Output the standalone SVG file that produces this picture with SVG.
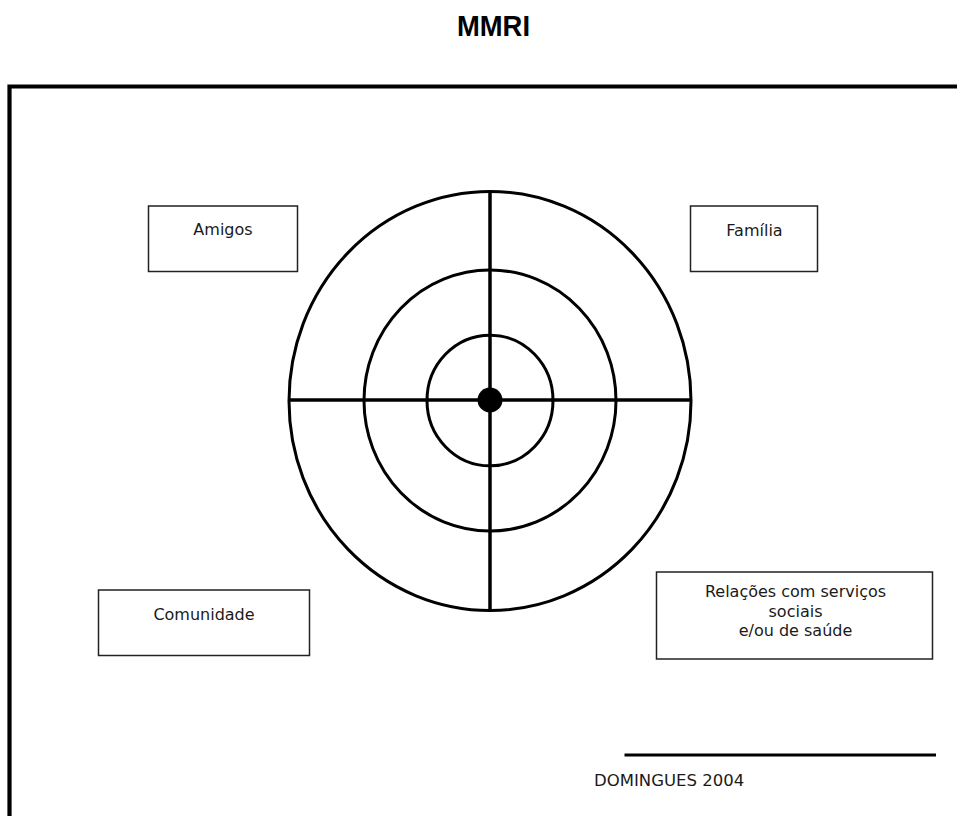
<svg xmlns="http://www.w3.org/2000/svg" width="957" height="816" viewBox="0 0 957 816">
<style>
.box{fill:#fff;stroke:#222;stroke-width:1.5}
.lbl{font-family:"DejaVu Sans",Verdana,sans-serif;font-size:16px;fill:#1a1a1a;text-anchor:middle}
.ring{fill:none;stroke:#000;stroke-width:3}
.axis{stroke:#000;stroke-width:3.5}
</style>
<rect width="957" height="816" fill="#fff"/>
<text x="457" y="36" font-family="'Liberation Sans',Arial,sans-serif" font-weight="bold" font-size="30" textLength="73" lengthAdjust="spacingAndGlyphs" fill="#000">MMRI</text>
<path d="M9.5,820 V86.5 H962" fill="none" stroke="#000" stroke-width="4.2"/>
<g id="target">
<ellipse class="ring" cx="490" cy="401" rx="201" ry="209.5"/>
<ellipse class="ring" cx="490" cy="400.5" rx="126" ry="130.5"/>
<ellipse class="ring" cx="490" cy="400.5" rx="63" ry="65.3"/>
</g>
<g id="connectors">
<line class="axis" x1="490" y1="191.5" x2="490" y2="610.5"/>
<line class="axis" x1="289" y1="400" x2="691" y2="400"/>
</g>
<g id="centre"><circle cx="490" cy="400" r="12.5" fill="#000"/></g>
<g id="amigos">
<rect class="box" x="148.5" y="206" width="149" height="65.5"/>
<text class="lbl" x="223" y="235">Amigos</text>
</g>
<g id="familia">
<rect class="box" x="690.5" y="206" width="127" height="65.5"/>
<text class="lbl" x="754.5" y="235.5">Família</text>
</g>
<g id="comunidade">
<rect class="box" x="98.5" y="590" width="211" height="65.5"/>
<text class="lbl" x="204" y="620">Comunidade</text>
</g>
<g id="relacoes">
<rect class="box" x="656.5" y="572" width="276" height="87"/>
<text class="lbl" x="795.5" y="597"><tspan x="795.5">Relações com serviços</tspan><tspan x="795.5" dy="19.5">sociais</tspan><tspan x="795.5" dy="19.5">e/ou de saúde</tspan></text>
</g>
<g id="credit">
<line x1="624.5" y1="755" x2="936" y2="755" stroke="#000" stroke-width="3"/>
<text x="594" y="786" font-family="'DejaVu Sans',Verdana,sans-serif" font-size="16.5" fill="#1a1a1a">DOMINGUES 2004</text>
</g>
</svg>
